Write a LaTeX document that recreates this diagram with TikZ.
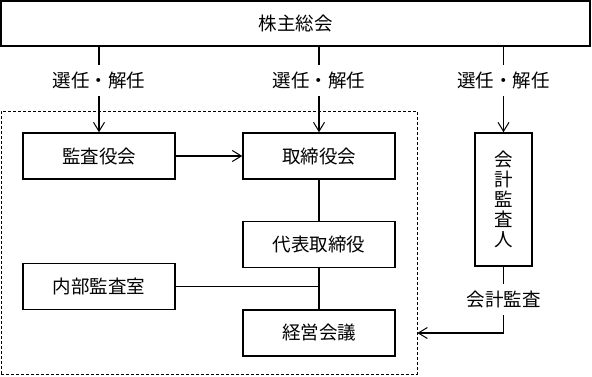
\documentclass[tikz,border=0pt]{standalone}
\usepackage{fontspec}
\newfontfamily\jpfont{Noto Sans CJK JP}
\usetikzlibrary{positioning, arrows.meta}

\begin{document}
\begin{tikzpicture}[x=1pt, y=1pt, >={Straight Barb[length=9pt, width=11pt, line width=1pt]},
        node distance=41pt,
        every node/.style={font=\jpfont\fontsize{18.5}{20}\selectfont},
        orgbox/.style={draw, line width=1.5pt, minimum width=152pt, minimum height=46pt, inner sep=0pt},
        lbl/.style={fill=white, inner xsep=2pt, inner ysep=7pt},
        link/.style={line width=1.5pt}]
        \useasboundingbox (0,0) rectangle (592,376);

        % outer dashed group
        \node[draw, dash pattern=on 3pt off 2pt, line width=0.8pt, minimum width=416pt, minimum height=263pt] (grp) at (209,133.5) {};

        \node[orgbox, minimum width=589pt, minimum height=45pt] (agm) at (295.5,352.5) {株主総会};
        \node[orgbox] (kansa) at (99,220) {監査役会};
        \node[orgbox] (board) at (319,220) {取締役会};
        \node[orgbox, below=of board] (ceo) {代表取締役};
        \node[orgbox, below=of ceo] (mgmt) {経営会議};
        \node[orgbox] (internal) at (99,89.5) {内部監査室};
        \node[orgbox, minimum width=57pt, minimum height=133pt, align=center] (auditor) at (503.5,176.5) {会\\計\\監\\査\\人};

        \draw[link, ->] (kansa |- agm.south) -- node[lbl, pos=0.39] {選任・解任} (kansa);
        \draw[link, ->] (board |- agm.south) -- node[lbl, pos=0.39] {選任・解任} (board);
        \draw[link, ->] (auditor |- agm.south) -- node[lbl, pos=0.39] {選任・解任} (auditor);
        \draw[link, ->] (kansa) -- (board);
        \draw[link] (board) -- (ceo);
        \draw[link] (ceo) -- (mgmt);
        \draw[link] (internal.east) -- (internal.east -| ceo.south);
        \draw[link, ->] (auditor.south) |- node[lbl, pos=0.25] {会計監査} (grp.east |- mgmt.center);
    \end{tikzpicture}
\end{document}
